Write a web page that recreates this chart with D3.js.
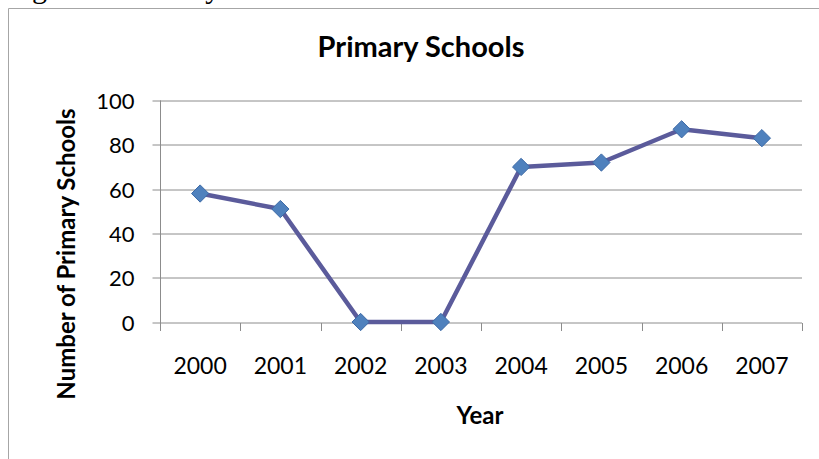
<!DOCTYPE html>
<html>
<head>
<meta charset="utf-8">
<script src="https://cdn.jsdelivr.net/npm/d3@7"></script>
<style>
  html, body { margin: 0; padding: 0; background: #fff; }
  svg { display: block; }
</style>
</head>
<body>
<svg id="chart" width="819" height="459"></svg>
<script>
// Number of primary schools per year
const years = ["2000", "2001", "2002", "2003", "2004", "2005", "2006", "2007"];
const schools = [58, 51, 0, 0, 70, 72, 87, 83];
const yTicks = [0, 20, 40, 60, 80, 100];

const svg = d3.select("#chart");
const W = 819, H = 459;
const margin = { left: 160, right: 17, top: 100.5, bottom: 137 };
const plotW = W - margin.left - margin.right;
const plotH = H - margin.top - margin.bottom;

const labelFont = "Lato, 'Open Sans', sans-serif";

// Caption of the surrounding document, clipped by the page top
svg.append("text")
  .attr("x", 7).attr("y", -2)
  .attr("font-family", "'Liberation Serif', 'Times New Roman', serif")
  .attr("font-size", 30)
  .attr("fill", "#000")
  .text("Figure 3: Primary Schools");

// Chart frame (top and left edges visible)
svg.append("path")
  .attr("d", `M8.5,${H} V8.5 H${W}`)
  .attr("fill", "none")
  .attr("stroke", "#a6a6a6")
  .attr("stroke-width", 1);

const g = svg.append("g").attr("transform", `translate(${margin.left},${margin.top})`);

const x = d3.scaleBand().domain(years).range([0, plotW]).paddingInner(0).paddingOuter(0);
const y = d3.scaleLinear().domain([0, 100]).range([plotH, 0]);

// Horizontal gridlines
g.append("g").selectAll("line")
  .data(yTicks.filter(d => d > 0))
  .join("line")
  .attr("x1", 0).attr("x2", plotW)
  .attr("y1", d => Math.round(y(d)) + 0.5).attr("y2", d => Math.round(y(d)) + 0.5)
  .attr("stroke", "#8c8c8c").attr("stroke-width", 1);

// Y axis
const yAxis = g.append("g")
  .attr("transform", "translate(0.5,0)")
  .call(d3.axisLeft(y).tickValues(yTicks).tickSize(8).tickPadding(18).tickFormat(d3.format("d")));
yAxis.select(".domain").attr("stroke", "#8c8c8c").attr("d", `M0,${y(100)}V${plotH + 8}`);
yAxis.selectAll(".tick line").attr("stroke", "#8c8c8c");
yAxis.selectAll(".tick").attr("transform", d => `translate(0,${Math.round(y(d)) + 0.5})`);
yAxis.selectAll("text")
  .attr("font-family", labelFont).attr("font-size", 22).attr("fill", "#000").attr("dy", "0.36em");

// X axis: ticks at category boundaries, labels at category centres
const xAxisG = g.append("g").attr("transform", `translate(0,${Math.round(plotH) + 0.5})`);
xAxisG.append("line")
  .attr("x1", 0).attr("x2", plotW).attr("y1", 0).attr("y2", 0)
  .attr("stroke", "#8c8c8c");
const boundaries = years.map(d => x(d)).concat([plotW]);
xAxisG.selectAll("line.tk")
  .data(boundaries)
  .join("line").attr("class", "tk")
  .attr("x1", d => Math.round(d) + 0.5).attr("x2", d => Math.round(d) + 0.5)
  .attr("y1", 0).attr("y2", 8)
  .attr("stroke", "#8c8c8c");
xAxisG.selectAll("text.lbl")
  .data(years)
  .join("text").attr("class", "lbl")
  .attr("x", d => x(d) + x.bandwidth() / 2)
  .attr("y", 51)
  .attr("text-anchor", "middle")
  .attr("font-family", labelFont).attr("font-size", 23).attr("fill", "#000")
  .text(d => d);

// Series line
const line = d3.line()
  .x((d, i) => x(years[i]) + x.bandwidth() / 2)
  .y(d => y(d));
g.append("path")
  .datum(schools)
  .attr("d", line)
  .attr("fill", "none")
  .attr("stroke", "#5b5b9b")
  .attr("stroke-width", 4.5)
  .attr("stroke-linejoin", "round");

// Diamond markers
const diamond = d3.symbol().type(d3.symbolDiamond2).size(190);
g.append("g").selectAll("path")
  .data(schools)
  .join("path")
  .attr("transform", (d, i) => `translate(${x(years[i]) + x.bandwidth() / 2},${y(d)})`)
  .attr("d", diamond)
  .attr("fill", "#4f81bd")
  .attr("stroke", "#3d6aa6")
  .attr("stroke-width", 1);

// Titles
svg.append("text")
  .attr("x", 421).attr("y", 57)
  .attr("text-anchor", "middle")
  .attr("font-family", labelFont).attr("font-weight", "bold").attr("font-size", 29)
  .attr("fill", "#000")
  .text("Primary Schools");

svg.append("text")
  .attr("transform", "translate(75,254) rotate(-90)")
  .attr("text-anchor", "middle")
  .attr("font-family", labelFont).attr("font-weight", "bold").attr("font-size", 24)
  .attr("fill", "#000")
  .text("Number of Primary Schools");

svg.append("text")
  .attr("x", 480).attr("y", 424)
  .attr("text-anchor", "middle")
  .attr("font-family", labelFont).attr("font-weight", "bold").attr("font-size", 24)
  .attr("fill", "#000")
  .text("Year");
</script>
</body>
</html>
